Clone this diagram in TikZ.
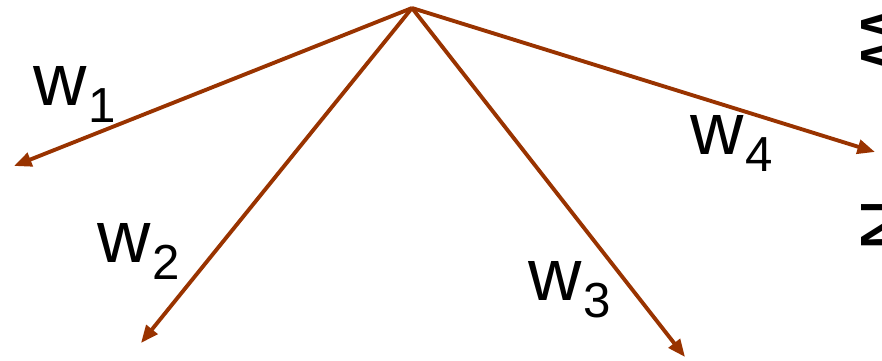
\documentclass[tikz,border=0pt]{standalone}
\usepackage{fontspec}
\setmainfont{Liberation Sans}
\usepackage{tikz}
\usetikzlibrary{arrows.meta}

\definecolor{vecbrown}{HTML}{993300}
\newcommand{\wlab}[1]{w\kern0.5pt\raisebox{-5pt}{\fontsize{14}{16}\selectfont #1}}

\begin{document}
\begin{tikzpicture}[x=0.01cm, y=-0.01cm,
    vec/.style={draw=vecbrown, line width=1.1pt, -{Triangle[length=5pt, width=4pt]}},
    wlabel/.style={anchor=base west, inner sep=0pt, font=\fontsize{21}{24}\selectfont}]
  \useasboundingbox (0,0) rectangle (882,360);
  \clip (0,0) rectangle (882,360);
  % 顶点与箭头终点
  \coordinate (top) at (412,8);
  \coordinate (e1) at (14,166);
  \coordinate (e2) at (141,343);
  \coordinate (e3) at (685,357);
  \coordinate (e4) at (875,152);
  % 向量
  \draw[vec] (top) -- (e1);
  \draw[vec] (top) -- (e2);
  \draw[vec] (top) -- (e3);
  \draw[vec] (top) -- (e4);
  % 标注
  \node[wlabel] (w1) at (33,105) {\wlab{1}};
  \node[wlabel] (w2) at (97,262) {\wlab{2}};
  \node[wlabel] (w3) at (528,300) {\wlab{3}};
  \node[wlabel] (w4) at (690,154) {\wlab{4}};
  % 右边被截去的文字
  \node[rotate=-90, font=\fontsize{21}{24}\selectfont] (cutA) at (887,40) {W};
  \node[rotate=-90, font=\fontsize{21}{24}\selectfont] (cutB) at (887,225) {N};
\end{tikzpicture}
\end{document}
